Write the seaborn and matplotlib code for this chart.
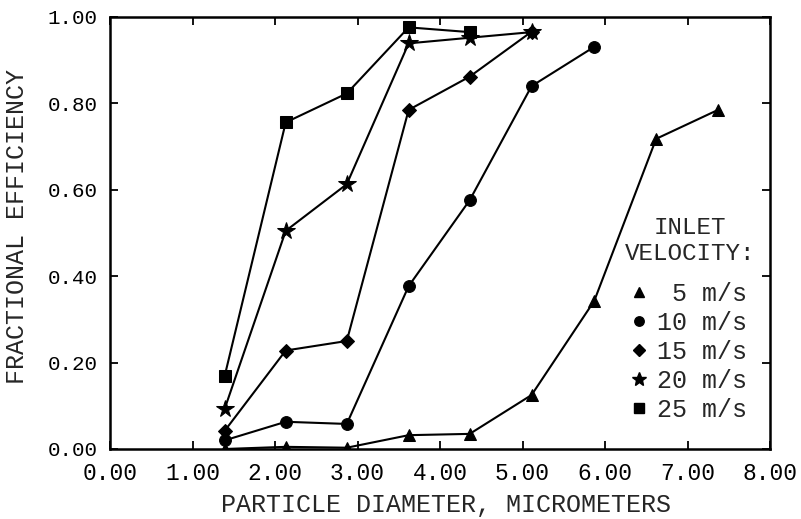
import matplotlib
matplotlib.use("Agg")
import matplotlib.pyplot as plt
import seaborn as sns
import pandas as pd
from matplotlib.lines import Line2D

diam = [1.39, 2.13, 2.87, 3.62, 4.36, 5.11, 5.87, 6.62, 7.37]
eff_5 = [0.0, 0.005, 0.003, 0.032, 0.035, 0.125, 0.343, 0.718, 0.785]
eff_10 = [0.02, 0.063, 0.058, 0.377, 0.576, 0.840, 0.931]
eff_15 = [0.042, 0.228, 0.25, 0.785, 0.862, 0.966]
eff_20 = [0.093, 0.505, 0.613, 0.939, 0.952, 0.965]
eff_25 = [0.169, 0.756, 0.823, 0.976, 0.965]
velocities = ["5 m/s", "10 m/s", "15 m/s", "20 m/s", "25 m/s"]
legend_labels = [" 5 m/s", "10 m/s", "15 m/s", "20 m/s", "25 m/s"]
series = [eff_5, eff_10, eff_15, eff_20, eff_25]
markers = {"5 m/s": "^", "10 m/s": "o", "15 m/s": "D", "20 m/s": "*", "25 m/s": "s"}
msizes = {"5 m/s": 9, "10 m/s": 8.5, "15 m/s": 7.5, "20 m/s": 13, "25 m/s": 8.5}
xticks = [0, 1, 2, 3, 4, 5, 6, 7, 8]
yticks = [0, 0.2, 0.4, 0.6, 0.8, 1.0]

rows = []
for v, ys in zip(velocities, series):
    for x, y in zip(diam, ys):
        rows.append({"diam": x, "eff": y, "vel": v})
df = pd.DataFrame(rows)

sns.set_style("ticks")
plt.rcParams["font.family"] = ["Liberation Mono", "DejaVu Sans Mono"]

fig = plt.figure(figsize=(8.01, 5.19), dpi=100)
ax = fig.add_axes([110/801, 1 - 449/519, 660/801, 432/519])

for v in velocities:
    sub = df[df["vel"] == v]
    sns.lineplot(data=sub, x="diam", y="eff", ax=ax, color="black", lw=1.5,
                 marker=markers[v], markersize=msizes[v], markeredgecolor="black",
                 markerfacecolor="black", legend=False, sort=False)

ax.set_xlim(0, 8)
ax.set_ylim(0, 1)
ax.set_xticks(xticks)
ax.set_xticklabels(["%.2f" % t for t in xticks])
ax.set_yticks(yticks)
ax.set_yticklabels(["%.2f" % t for t in yticks])
ax.tick_params(direction="in", length=6, width=1.3, top=True, right=True,
               colors="black")
ax.tick_params(axis="x", labelsize=16.5, pad=9)
ax.tick_params(axis="y", labelsize=15, pad=9)
for s in ax.spines.values():
    s.set_visible(True)
    s.set_linewidth(1.8)
    s.set_color("black")
ax.set_xlabel("PARTICLE DIAMETER, MICROMETERS", fontsize=18)
ax.set_ylabel("FRACTIONAL EFFICIENCY", fontsize=18)
ax.xaxis.set_label_coords((446 - 110) / 660, (449 - 493) / 432)
ax.yaxis.set_label_coords((29 - 110) / 660, (449 - 227) / 432)

handles = [Line2D([], [], linestyle="none", marker=markers[v], color="black",
                  markersize=msizes[v] * 0.8) for v in velocities]
leg = ax.legend(handles, legend_labels, loc="upper left",
                bbox_to_anchor=((626 - 110) / 660, (449 - 282) / 432),
                frameon=False, fontsize=18, handletextpad=0.25,
                labelspacing=0.2, handlelength=1.0, borderaxespad=0, borderpad=0)

ax.text((690 - 110) / 660, (449 - 227) / 432, "INLET", transform=ax.transAxes,
        ha="center", va="center", fontsize=17.5)
ax.text((690 - 110) / 660, (449 - 253) / 432, "VELOCITY:", transform=ax.transAxes,
        ha="center", va="center", fontsize=17.5)

fig.savefig("out.png", dpi=100)
